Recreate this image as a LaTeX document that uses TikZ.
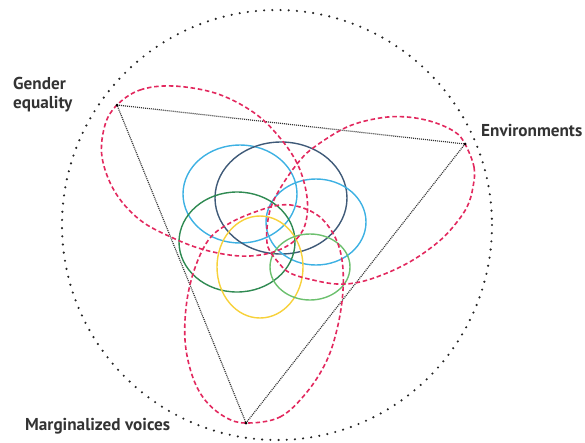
\documentclass[tikz,border=0pt]{standalone}
\usepackage{fontspec}
\setmainfont{PT Sans}
\begin{document}
\begin{tikzpicture}[x=1pt,y=-1pt,
  ring/.style={line width=2.4pt, line cap=round, dash pattern=on 0pt off 8.2pt, black!85},
  edge/.style={line width=1.2pt, dash pattern=on 1pt off 1pt, black!80},
  loop/.style={line width=1.6pt, dash pattern=on 4.5pt off 2.8pt, color=loopred},
  theme/.style={line width=1.4pt},
  label/.style={font=\bfseries\fontsize{17.2}{19.5}\selectfont, text=black!80, inner sep=0pt},
  vdot/.style={circle, fill=black, inner sep=0pt, minimum size=3pt}]
\definecolor{loopred}{HTML}{E2285E}
\definecolor{skyblue}{HTML}{3DB1E3}
\definecolor{slate}{HTML}{3F5A78}
\definecolor{forest}{HTML}{2F8A52}
\definecolor{sun}{HTML}{F7D13A}
\definecolor{leaf}{HTML}{6CC06E}
\useasboundingbox (0,0) rectangle (585,442);

% outer dotted circle
\draw[ring] (277,225) circle (215);

% vertices of the triangle
\coordinate (ge) at (117,105);
\coordinate (en) at (465,144);
\coordinate (mv) at (246,423);
\draw[edge] (ge) -- (en) -- (mv) -- cycle;

% overlapping theme ellipses
\draw[theme, skyblue] (240,194) ellipse (57 and 49);
\draw[theme, slate] (281,198) ellipse (66 and 56);
\draw[theme, skyblue] (316,222) ellipse (50 and 43);
\draw[theme, forest] (237,242) ellipse (58 and 50);
\draw[theme, sun] (260,267) ellipse (43 and 51);
\draw[theme, leaf] (310,267) ellipse (40 and 33);

% loops reaching out to each corner
\draw[loop] plot[smooth cycle, tension=0.6] coordinates {
  (117,105) (140,90) (173,86) (215,93) (250,110) (275,132) (297,163)
  (307,197) (305,225) (293,242) (270,253) (240,256) (205,250) (173,238)
  (140,220) (115,192) (102,157) (105,125)};
\draw[loop] plot[smooth cycle, tension=0.6] coordinates {
  (465,144) (474,167) (473,187) (467,207) (453,227) (437,243) (413,260)
  (387,273) (360,282) (337,284) (313,280) (290,273) (278,262) (268,247)
  (267,228) (271,207) (281,187) (297,164) (313,148) (347,127) (380,118)
  (407,117) (433,122) (455,132)};
\draw[loop] plot[smooth cycle, tension=0.6] coordinates {
  (246,423) (280,417) (307,392) (327,360) (338,325) (343,290) (342,260)
  (335,237) (320,217) (300,207) (280,205) (255,212) (230,223) (210,238)
  (196,265) (187,300) (185,340) (192,375) (205,400) (225,417)};

\node[vdot] at (ge) {};
\node[vdot] at (en) {};
\node[vdot] at (mv) {};

% corner labels
\node[label, anchor=north west, align=left] (lge) at (13,77) {Gender\\equality};
\node[label, anchor=west] (len) at (481,131) {Environments};
\node[label, anchor=base west] (lmv) at (25,430) {Marginalized voices};
\end{tikzpicture}
\end{document}
